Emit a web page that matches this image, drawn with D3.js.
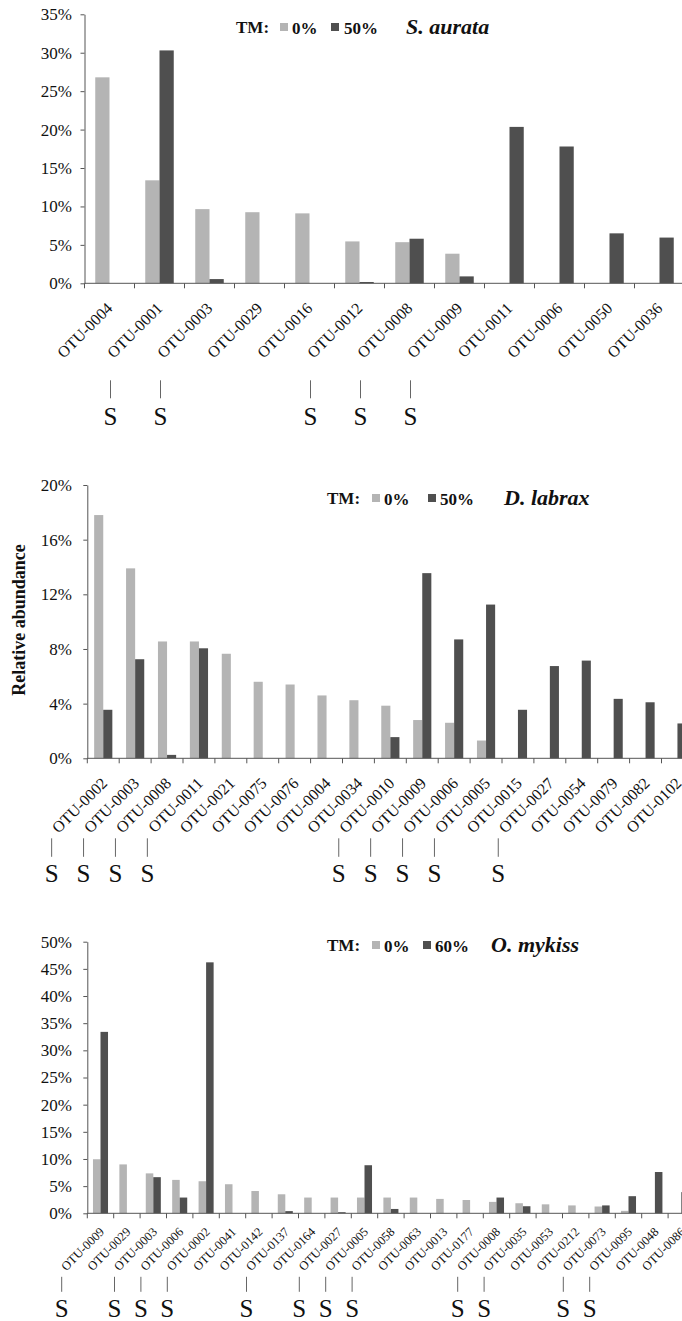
<!DOCTYPE html>
<html>
<head>
<meta charset="utf-8">
<script src="https://cdn.jsdelivr.net/npm/d3@7"></script>
<style>
  body { margin: 0; background: #fff; }
  svg { display: block; overflow: hidden; }
</style>
</head>
<body>
<div id="chart"></div>
<script>
// ----- S. aurata -----
const auratCats = ["OTU-0004", "OTU-0001", "OTU-0003", "OTU-0029", "OTU-0016", "OTU-0012",
  "OTU-0008", "OTU-0009", "OTU-0011", "OTU-0006", "OTU-0050", "OTU-0036"];
const auratT0  = [26.8, 13.4, 9.65, 9.25, 9.1, 5.45, 5.35, 3.85, 0, 0, 0, 0];
const auratT50 = [0, 30.3, 0.55, 0, 0, 0.17, 5.8, 0.9, 20.35, 17.8, 6.5, 5.95];
const auratSeries = ["0%", "50%"];
const auratTicks = [0, 5, 10, 15, 20, 25, 30, 35];
const auratS = ["OTU-0004", "OTU-0001", "OTU-0016", "OTU-0012", "OTU-0008"];

// ----- D. labrax -----
const labraxCats = ["OTU-0002", "OTU-0003", "OTU-0008", "OTU-0011", "OTU-0021", "OTU-0075",
  "OTU-0076", "OTU-0004", "OTU-0034", "OTU-0010", "OTU-0009", "OTU-0006", "OTU-0005",
  "OTU-0015", "OTU-0027", "OTU-0054", "OTU-0079", "OTU-0082", "OTU-0102"];
const labraxT0  = [17.8, 13.9, 8.55, 8.55, 7.65, 5.6, 5.4, 4.6, 4.25, 3.85, 2.8, 2.6, 1.3,
  0, 0, 0, 0, 0, 0];
const labraxT50 = [3.55, 7.25, 0.25, 8.05, 0, 0, 0, 0, 0, 1.55, 13.55, 8.7, 11.25,
  3.55, 6.75, 7.15, 4.35, 4.1, 2.55];
const labraxSeries = ["0%", "50%"];
const labraxTicks = [0, 4, 8, 12, 16, 20];
const labraxS = ["OTU-0002", "OTU-0003", "OTU-0008", "OTU-0011", "OTU-0010", "OTU-0009",
  "OTU-0006", "OTU-0005", "OTU-0027"];

// ----- O. mykiss -----
const mykissCats = ["OTU-0009", "OTU-0029", "OTU-0003", "OTU-0006", "OTU-0002", "OTU-0041",
  "OTU-0142", "OTU-0137", "OTU-0164", "OTU-0027", "OTU-0005", "OTU-0058", "OTU-0063",
  "OTU-0013", "OTU-0177", "OTU-0008", "OTU-0035", "OTU-0053", "OTU-0212", "OTU-0073",
  "OTU-0095", "OTU-0048", "OTU-0086"];
const mykissT0  = [9.95, 9.0, 7.35, 6.15, 5.9, 5.35, 4.1, 3.5, 2.9, 2.9, 2.9, 2.9, 2.9,
  2.65, 2.45, 2.1, 1.85, 1.65, 1.45, 1.25, 0.45, 0, 0];
const mykissT60 = [33.4, 0, 6.65, 2.9, 46.2, 0, 0, 0.4, 0, 0.2, 8.85, 0.8, 0,
  0, 0, 2.9, 1.3, 0, 0, 1.45, 3.15, 7.6, 3.9];
const mykissSeries = ["0%", "60%"];
const mykissTicks = [0, 5, 10, 15, 20, 25, 30, 35, 40, 45, 50];
const mykissS = ["OTU-0009", "OTU-0003", "OTU-0006", "OTU-0002", "OTU-0137", "OTU-0027",
  "OTU-0005", "OTU-0058", "OTU-0008", "OTU-0035", "OTU-0073", "OTU-0095"];

const COLORS = ["#b4b4b4", "#4f4f4f"];
const AXIS = "#555";
const FONT = '"Liberation Serif", "Times New Roman", serif';

const panels = [
  {
    cats: auratCats, vals: [auratT0, auratT50], names: auratSeries, ticks: auratTicks,
    sig: auratS, species: "S. aurata",
    x0: 84.5, step: 50, yTop: 14.3, yBot: 283.3,
    labelSize: 16, labelDx: 4, labelDy: 26,
    sDx: 1, sLine: [97, 115], sBase: 142,
    legend: { y: 33, tm: 236, sq0: 280, t0: 292, sq1: 331, t1: 344, sp: 406 }
  },
  {
    cats: labraxCats, vals: [labraxT0, labraxT50], names: labraxSeries, ticks: labraxTicks,
    sig: labraxS, species: "D. labrax",
    x0: 87.3, step: 31.9, yTop: 485, yBot: 758.3,
    labelSize: 16, labelDx: 5, labelDy: 26,
    sDx: -51.6, sLine: [80, 98.5], sBase: 124,
    legend: { y: 504, tm: 327, sq0: 372, t0: 384, sq1: 428, t1: 440, sp: 504 }
  },
  {
    cats: mykissCats, vals: [mykissT0, mykissT60], names: mykissSeries, ticks: mykissTicks,
    sig: mykissS, species: "O. mykiss",
    x0: 87.3, step: 26.4, yTop: 941.7, yBot: 1213.3,
    labelSize: 12.5, labelDx: 4.5, labelDy: 19.3,
    sDx: -38.8, sLine: [63.5, 78.5], sBase: 103.5,
    legend: { y: 951, tm: 327, sq0: 372, t0: 384, sq1: 423, t1: 435, sp: 491 }
  }
];

const svg = d3.select("#chart").append("svg")
  .attr("width", 682)
  .attr("height", 1321)
  .attr("viewBox", [0, 0, 682, 1321])
  .attr("font-family", FONT);

panels.forEach(p => drawPanel(p));

// y axis title (middle panel only)
svg.append("text")
  .attr("transform", "translate(25,620) rotate(-90)")
  .attr("text-anchor", "middle")
  .attr("font-family", FONT)
  .attr("font-size", 18)
  .attr("font-weight", "bold")
  .attr("fill", "#111")
  .text("Relative abundance");

function drawPanel(p) {
  const g = svg.append("g");
  const n = p.cats.length;
  const yMax = p.ticks[p.ticks.length - 1];

  const x = d3.scaleBand()
    .domain(p.cats)
    .range([p.x0, p.x0 + p.step * n]);

  const bw = x.bandwidth();
  const sub = d3.scaleBand()
    .domain([0, 1])
    .range([bw * 0.215, bw * 0.785]);

  const y = d3.scaleLinear()
    .domain([0, yMax])
    .range([p.yBot, p.yTop]);

  // bars
  p.vals.forEach((vals, j) => {
    g.selectAll(null)
      .data(p.cats.map((c, i) => ({ cat: c, v: vals[i] })).filter(d => d.v > 0))
      .enter()
      .append("rect")
      .attr("x", d => x(d.cat) + sub(j))
      .attr("width", sub.bandwidth())
      .attr("y", d => y(d.v))
      .attr("height", d => p.yBot - y(d.v))
      .attr("fill", COLORS[j]);
  });

  // y axis
  const yAxis = g.append("g")
    .attr("transform", `translate(${p.x0},0)`)
    .call(
      d3.axisLeft(y)
        .tickValues(p.ticks)
        .tickFormat(d => d + "%")
        .tickSize(4)
        .tickSizeOuter(0)
        .tickPadding(p.x0 - 76)
    );
  yAxis.attr("font-family", FONT);
  yAxis.select(".domain").attr("stroke", AXIS);
  yAxis.selectAll(".tick line").attr("stroke", AXIS);
  yAxis.selectAll(".tick text")
    .attr("font-family", FONT)
    .attr("font-size", 17)
    .attr("fill", "#111");

  // x axis: baseline + ticks at category boundaries
  const [xa, xb] = x.range();
  g.append("line")
    .attr("x1", xa).attr("x2", xb)
    .attr("y1", p.yBot).attr("y2", p.yBot)
    .attr("stroke", AXIS);

  const bounds = p.cats.map(c => x(c)).concat([xb]);
  g.selectAll(null)
    .data(bounds)
    .enter()
    .append("line")
    .attr("x1", d => d).attr("x2", d => d)
    .attr("y1", p.yBot).attr("y2", p.yBot + 5)
    .attr("stroke", AXIS);

  // rotated category labels
  g.selectAll(null)
    .data(p.cats)
    .enter()
    .append("text")
    .attr("transform", d =>
      `translate(${x(d) + bw / 2 + p.labelDx},${p.yBot + p.labelDy}) rotate(-45)`)
    .attr("text-anchor", "end")
    .attr("font-family", FONT)
    .attr("font-size", p.labelSize)
    .attr("fill", "#111")
    .text(d => d);

  // significance markers
  const sg = g.selectAll(null)
    .data(p.sig)
    .enter()
    .append("g")
    .attr("transform", d => `translate(${x(d) + bw / 2 + p.sDx},${p.yBot})`);

  sg.append("line")
    .attr("y1", p.sLine[0]).attr("y2", p.sLine[1])
    .attr("stroke", "#666");

  sg.append("text")
    .attr("y", p.sBase)
    .attr("text-anchor", "middle")
    .attr("font-family", FONT)
    .attr("font-size", 25)
    .attr("fill", "#111")
    .text("S");

  // legend
  const L = p.legend;
  g.append("text")
    .attr("x", L.tm).attr("y", L.y)
    .attr("font-family", FONT)
    .attr("font-size", 17).attr("font-weight", "bold")
    .attr("fill", "#111")
    .text("TM:");

  [[L.sq0, L.t0], [L.sq1, L.t1]].forEach(([sx, tx], j) => {
    g.append("rect")
      .attr("x", sx).attr("y", L.y - 10)
      .attr("width", 8).attr("height", 8)
      .attr("fill", COLORS[j]);
    g.append("text")
      .attr("x", tx).attr("y", L.y + 1)
      .attr("font-family", FONT)
      .attr("font-size", 17).attr("font-weight", "bold")
      .attr("fill", "#111")
      .text(p.names[j]);
  });

  g.append("text")
    .attr("x", L.sp).attr("y", L.y + 1)
    .attr("font-family", FONT)
    .attr("font-size", 22).attr("font-weight", "bold").attr("font-style", "italic")
    .attr("fill", "#111")
    .text(p.species);
}
</script>
</body>
</html>
